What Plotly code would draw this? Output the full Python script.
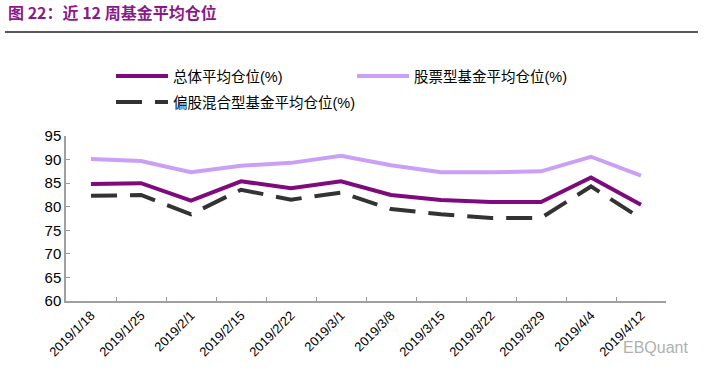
import plotly.graph_objects as go

dates = ["2019/1/18", "2019/1/25", "2019/2/1", "2019/2/15", "2019/2/22", "2019/3/1",
         "2019/3/8", "2019/3/15", "2019/3/22", "2019/3/29", "2019/4/4", "2019/4/12"]
overall = [84.8, 85.0, 81.3, 85.4, 83.9, 85.4, 82.5, 81.4, 81.0, 81.0, 86.2, 80.4]
stock_fund = [90.1, 89.7, 87.3, 88.7, 89.3, 90.8, 88.8, 87.3, 87.3, 87.5, 90.6, 86.6]
hybrid_fund = [82.3, 82.5, 78.4, 83.6, 81.5, 83.0, 79.5, 78.4, 77.6, 77.6, 84.3, 77.5]

names = ["总体平均仓位(%)", "股票型基金平均仓位(%)", "偏股混合型基金平均仓位(%)"]
y_ticks = [60, 65, 70, 75, 80, 85, 90, 95]

FONT = "Arial, Liberation Sans, Noto Sans CJK SC, sans-serif"
W, H = 713, 376
L, R, T, B = 66, 47, 136, 75
PW, PH = W - L - R, H - T - B

fig = go.Figure()
fig.add_trace(go.Scatter(x=dates, y=overall, name=names[0], mode="lines",
                         line=dict(color="#7E0A7E", width=4), legend="legend"))
fig.add_trace(go.Scatter(x=dates, y=stock_fund, name=names[1], mode="lines",
                         line=dict(color="#C9A0F5", width=4), legend="legend"))
fig.add_trace(go.Scatter(x=dates, y=hybrid_fund, name=names[2], mode="lines",
                         line=dict(color="#333333", width=4, dash="26px,13px"),
                         legend="legend2"))

leg_common = dict(orientation="h", xref="container", yref="container",
                  xanchor="left", yanchor="middle", entrywidthmode="pixels",
                  tracegroupgap=0,
                  font=dict(size=14.5, family=FONT, color="#000000"),
                  bgcolor="rgba(0,0,0,0)", itemwidth=52)

fig.update_layout(
    width=W, height=H,
    margin=dict(l=L, r=R, t=T, b=B, autoexpand=False),
    paper_bgcolor="white", plot_bgcolor="white",
    font=dict(family=FONT, color="#000000"),
    showlegend=True,
    title=dict(text="<b>图 22：近 12 周基金平均仓位</b>", xref="container", yref="container",
               x=8 / W, xanchor="left", y=1 - 13 / H, yanchor="middle",
               font=dict(size=16, color="#8B1A89", family="Noto Sans CJK SC, sans-serif")),
    legend=dict(leg_common, x=111 / W, y=1 - 76 / H, entrywidth=174),
    legend2=dict(leg_common, x=111 / W, y=1 - 102 / H, entrywidth=260),
    xaxis=dict(type="category", range=[-0.5, 11.5], tickson="boundaries",
               ticks="inside", ticklen=4, tickcolor="#999999", automargin=False,
               showline=True, linecolor="#A0A0A0", linewidth=1.5,
               showgrid=False, tickangle=-45,
               tickfont=dict(size=13, family=FONT, color="#000000")),
    yaxis=dict(range=[60, 95], tickvals=y_ticks, ticks="inside", ticklen=4,
               tickcolor="#999999", showline=True, linecolor="#A0A0A0", linewidth=1.5,
               automargin=False, showgrid=False, zeroline=False,
               tickfont=dict(size=15, family=FONT, color="#000000")),
)

line_y = 1 + (T - 32) / PH
fig.add_shape(type="line", xref="paper", yref="paper",
              x0=(5 - L) / PW, x1=(698 - L) / PW, y0=line_y, y1=line_y,
              line=dict(color="#222222", width=1.5))
fig.add_annotation(text="EBQuant", xref="paper", yref="paper",
                   x=(690 - L) / PW, y=-(347 - (T + PH)) / PH,
                   xanchor="right", yanchor="middle", showarrow=False,
                   font=dict(size=16, color="#B0B0B0", family=FONT))

fig.write_html("out.html", config={"displayModeBar": False},
               post_script="document.body.style.margin='0';document.body.style.padding='0';")
